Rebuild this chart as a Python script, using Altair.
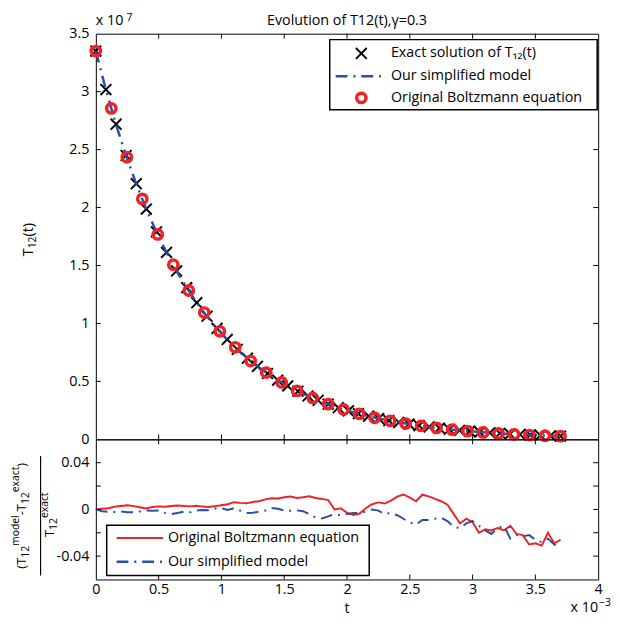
import altair as alt
import pandas as pd

# ---------------- data (t in units of 1e-3, T12 in units of 1e7) ----------------
t_exact = [0.000, 0.080, 0.161, 0.241, 0.322, 0.402, 0.483, 0.563, 0.643, 0.724,
           0.804, 0.885, 0.965, 1.046, 1.126, 1.207, 1.287, 1.367, 1.448, 1.528,
           1.609, 1.689, 1.770, 1.850, 1.930, 2.011, 2.091, 2.172, 2.252, 2.333,
           2.413, 2.493, 2.574, 2.654, 2.735, 2.815, 2.896, 2.976, 3.057, 3.137,
           3.217, 3.298, 3.378, 3.459, 3.539, 3.620, 3.700]
T_exact = [3.350, 3.018, 2.719, 2.449, 2.206, 1.987, 1.790, 1.613, 1.453, 1.309,
           1.179, 1.062, 0.957, 0.862, 0.777, 0.700, 0.630, 0.568, 0.511, 0.461,
           0.415, 0.374, 0.337, 0.303, 0.273, 0.246, 0.222, 0.200, 0.180, 0.162,
           0.146, 0.132, 0.119, 0.107, 0.096, 0.087, 0.078, 0.070, 0.063, 0.057,
           0.052, 0.046, 0.042, 0.038, 0.034, 0.031, 0.028]
T_model = [3.350, 3.016, 2.716, 2.447, 2.204, 1.985, 1.789, 1.612, 1.452, 1.308,
           1.178, 1.061, 0.956, 0.861, 0.776, 0.699, 0.630, 0.567, 0.511, 0.460,
           0.415, 0.374, 0.336, 0.303, 0.273, 0.246, 0.222, 0.200, 0.180, 0.162,
           0.146, 0.132, 0.118, 0.107, 0.096, 0.086, 0.078, 0.070, 0.063, 0.057,
           0.051, 0.046, 0.042, 0.037, 0.034, 0.030, 0.027]
t_boltz = [0.000, 0.123, 0.247, 0.370, 0.493, 0.617, 0.740, 0.863, 0.987, 1.110,
           1.233, 1.357, 1.480, 1.603, 1.727, 1.850, 1.973, 2.097, 2.220, 2.343,
           2.467, 2.590, 2.713, 2.837, 2.960, 3.083, 3.207, 3.330, 3.453, 3.577,
           3.700]
T_boltz = [3.350, 2.856, 2.434, 2.075, 1.768, 1.507, 1.284, 1.094, 0.932, 0.794,
           0.676, 0.576, 0.491, 0.418, 0.357, 0.304, 0.258, 0.220, 0.187, 0.160,
           0.136, 0.116, 0.099, 0.084, 0.071, 0.060, 0.051, 0.043, 0.037, 0.031,
           0.027]

t_err = [0.00, 0.05, 0.10, 0.15, 0.20, 0.25, 0.30, 0.35, 0.40, 0.45,
         0.50, 0.55, 0.60, 0.65, 0.70, 0.75, 0.80, 0.85, 0.90, 0.95,
         1.00, 1.05, 1.10, 1.15, 1.20, 1.25, 1.30, 1.35, 1.40, 1.45,
         1.50, 1.55, 1.60, 1.65, 1.70, 1.75, 1.80, 1.85, 1.90, 1.95,
         2.00, 2.05, 2.10, 2.15, 2.20, 2.25, 2.30, 2.35, 2.40, 2.45,
         2.50, 2.55, 2.60, 2.65, 2.70, 2.75, 2.80, 2.85, 2.90, 2.95,
         3.00, 3.05, 3.10, 3.15, 3.20, 3.25, 3.30, 3.35, 3.40, 3.45,
         3.50, 3.55, 3.60, 3.65, 3.70]
err_boltz = [0.0000, 0.0005, 0.0010, 0.0024, 0.0030, 0.0036, 0.0028, 0.0018, 0.0008, 0.0020,
             0.0026, 0.0022, 0.0030, 0.0034, 0.0030, 0.0026, 0.0032, 0.0024, 0.0020, 0.0028,
             0.0036, 0.0044, 0.0062, 0.0056, 0.0052, 0.0064, 0.0070, 0.0086, 0.0096, 0.0094,
             0.0104, 0.0110, 0.0098, 0.0104, 0.0112, 0.0098, 0.0090, 0.0080, 0.0000, 0.0010,
             -0.0030, -0.0048, -0.0036, 0.0010, 0.0044, 0.0060, 0.0050, 0.0076, 0.0110, 0.0128,
             0.0100, 0.0070, 0.0126, 0.0112, 0.0090, 0.0070, 0.0040, -0.0040, -0.0120, -0.0080,
             -0.0110, -0.0200, -0.0170, -0.0180, -0.0160, -0.0180, -0.0140, -0.0210, -0.0220, -0.0300,
             -0.0290, -0.0310, -0.0200, -0.0290, -0.0260]
err_model = [0.0000, -0.0015, -0.0020, -0.0022, -0.0018, -0.0024, -0.0025, -0.0018, -0.0010, -0.0012,
             -0.0010, -0.0030, -0.0040, -0.0030, -0.0020, -0.0025, -0.0010, -0.0005, -0.0008, 0.0008,
             0.0010, -0.0005, 0.0010, -0.0010, -0.0030, -0.0028, -0.0020, -0.0010, 0.0012, 0.0005,
             -0.0010, -0.0012, -0.0008, -0.0015, -0.0040, -0.0070, -0.0078, -0.0060, -0.0040, -0.0050,
             -0.0040, -0.0030, -0.0030, -0.0020, 0.0000, -0.0010, -0.0040, -0.0030, -0.0050, -0.0080,
             -0.0110, -0.0130, -0.0090, -0.0090, -0.0080, -0.0070, -0.0100, -0.0150, -0.0160, -0.0120,
             -0.0100, -0.0140, -0.0180, -0.0210, -0.0160, -0.0140, -0.0250, -0.0220, -0.0230, -0.0220,
             -0.0260, -0.0280, -0.0250, -0.0300, -0.0330]

x_ticks = [0, 0.5, 1, 1.5, 2, 2.5, 3, 3.5, 4]
top_y_ticks = [0, 0.5, 1, 1.5, 2, 2.5, 3, 3.5]
bot_y_ticks = [-0.04, -0.02, 0, 0.02, 0.04]
bot_y_labels = [-0.04, 0, 0.04]

# ---------------- style ----------------
FONT = "Open Sans"
FS = 14.5
RED = "#ec2327"
BLUE = "#2c4ea3"
W, HT, HB = 509, 411, 142
TL = 5  # inward tick length
DASHDOT = [12, 6, 2, 6]
CROSS = "M -1 -1 L 1 1 M -1 1 L 1 -1"

xs = alt.Scale(domain=[0, 4], nice=False, zero=False)
ys_top = alt.Scale(domain=[0, 3.5], nice=False, zero=False)
ys_bot = alt.Scale(domain=[-0.06, 0.06], nice=False, zero=False)

top_y_axis = alt.Axis(values=top_y_ticks, format=".1~f", ticks=False, domain=False, grid=False,
                      labelPadding=7, labelFontSize=FS, labelFont=FONT, labelColor="black", title=None)
bot_x_axis = alt.Axis(values=x_ticks, format=".1~f", ticks=False, domain=False, grid=False,
                      labelPadding=3, labelFontSize=FS, labelFont=FONT, labelColor="black",
                      labelFlush=False, labelOverlap=False, title=None)
bot_y_axis = alt.Axis(values=bot_y_labels, ticks=False, domain=False, grid=False,
                      labelExpr="datum.value < -0.001 ? '-' + format(-datum.value, '.2f') : (datum.value > 0.001 ? format(datum.value, '.2f') : '0')",
                      labelPadding=7, labelFontSize=FS, labelFont=FONT, labelColor="black", title=None)

one = pd.DataFrame({"a": [0]})


def txt(text, x, y, size=FS, angle=0, align="left", baseline="middle"):
    kw = dict(text=text, font=FONT, fontSize=size, align=align, baseline=baseline, color="black")
    if angle:
        kw["angle"] = angle
    return alt.Chart(one).mark_text(**kw).encode(x=alt.value(x), y=alt.value(y))


# ---------------- top panel ----------------
exact_df = pd.DataFrame({"t": t_exact, "v": T_exact})
model_df = pd.DataFrame({"t": t_exact, "v": T_model})
boltz_df = pd.DataFrame({"t": t_boltz, "v": T_boltz})
xt_df = pd.DataFrame({"t": x_ticks[1:-1]})
yt_top_df = pd.DataFrame({"v": top_y_ticks[1:-1]})

X_top = alt.X("t:Q", scale=xs, axis=None)
Y_top = alt.Y("v:Q", scale=ys_top, axis=top_y_axis)

crosses = alt.Chart(exact_df).mark_point(shape=CROSS, size=120, filled=False, stroke="black",
                                         strokeWidth=2, opacity=1).encode(x=X_top, y=Y_top)
model_line = alt.Chart(model_df).mark_line(color=BLUE, strokeWidth=2.5, strokeDash=DASHDOT).encode(x=X_top, y=Y_top)
circles = alt.Chart(boltz_df).mark_point(shape="circle", size=90, filled=False, stroke=RED,
                                         strokeWidth=3.5, opacity=1).encode(x=X_top, y=Y_top)

tk_top = [
    alt.Chart(xt_df).mark_rule(color="black").encode(x=X_top, y=alt.value(0), y2=alt.value(TL)),
    alt.Chart(xt_df).mark_rule(color="black").encode(x=X_top, y=alt.value(HT), y2=alt.value(HT - TL)),
    alt.Chart(yt_top_df).mark_rule(color="black").encode(y=Y_top, x=alt.value(0), x2=alt.value(TL)),
    alt.Chart(yt_top_df).mark_rule(color="black").encode(y=Y_top, x=alt.value(W), x2=alt.value(W - TL)),
]

LX = W - 272  # legend box left
leg_top = [
    alt.Chart(one).mark_rect(fill="white", stroke="black", strokeWidth=1.5).encode(
        x=alt.value(LX), x2=alt.value(W - 1), y=alt.value(6), y2=alt.value(77)),
    alt.Chart(one).mark_point(shape=CROSS, size=120, filled=False, stroke="black", strokeWidth=2,
                              opacity=1).encode(x=alt.value(LX + 32), y=alt.value(20)),
    txt("Exact solution of T₁₂(t)", LX + 62, 20),
    alt.Chart(one).mark_rule(color=BLUE, strokeWidth=2.5, strokeDash=DASHDOT).encode(
        x=alt.value(LX + 6), x2=alt.value(LX + 55), y=alt.value(43)),
    txt("Our simplified model", LX + 62, 43),
    alt.Chart(one).mark_point(shape="circle", size=90, filled=False, stroke=RED, strokeWidth=3.5,
                              opacity=1).encode(x=alt.value(LX + 32), y=alt.value(65)),
    txt("Original Boltzmann equation", LX + 62, 65),
]

texts_top = [
    txt("Evolution of T12(t),γ=0.3", W / 2, -9, align="center", baseline="alphabetic"),
    txt("x 10", 0, -9, baseline="alphabetic"),
    txt("7", 31, -13, size=10.5, baseline="alphabetic"),
    txt("T", -68, 225.5, angle=270),
    txt("12", -64, 217.5, size=10.5, angle=270),
    txt("(t)", -68, 205.5, angle=270),
]

top = alt.layer(crosses, model_line, circles, *tk_top, *leg_top, *texts_top).properties(width=W, height=HT)

# ---------------- bottom panel ----------------
err_df = pd.DataFrame({"t": t_err, "e1": err_boltz, "e2": err_model})
yt_bot_df = pd.DataFrame({"e1": bot_y_ticks})

X_bot = alt.X("t:Q", scale=xs, axis=bot_x_axis)
Y_bot = alt.Y("e1:Q", scale=ys_bot, axis=bot_y_axis)

red_line = alt.Chart(err_df).mark_line(color=RED, strokeWidth=2).encode(x=X_bot, y=Y_bot)
blue_line = alt.Chart(err_df).mark_line(color=BLUE, strokeWidth=2, strokeDash=DASHDOT).encode(
    x=X_bot, y=alt.Y("e2:Q", scale=ys_bot, axis=bot_y_axis))

tk_bot = [
    alt.Chart(xt_df).mark_rule(color="black").encode(x=X_bot, y=alt.value(0), y2=alt.value(TL)),
    alt.Chart(xt_df).mark_rule(color="black").encode(x=X_bot, y=alt.value(HB), y2=alt.value(HB - TL)),
    alt.Chart(yt_bot_df).mark_rule(color="black").encode(y=Y_bot, x=alt.value(0), x2=alt.value(TL)),
    alt.Chart(yt_bot_df).mark_rule(color="black").encode(y=Y_bot, x=alt.value(W), x2=alt.value(W - TL)),
]

leg_bot = [
    alt.Chart(one).mark_rect(fill="white", stroke="black", strokeWidth=1.5).encode(
        x=alt.value(11), x2=alt.value(277), y=alt.value(87), y2=alt.value(138)),
    alt.Chart(one).mark_rule(color=RED, strokeWidth=2).encode(
        x=alt.value(21), x2=alt.value(68), y=alt.value(100)),
    txt("Original Boltzmann equation", 73, 100),
    alt.Chart(one).mark_rule(color=BLUE, strokeWidth=2.5, strokeDash=DASHDOT).encode(
        x=alt.value(21), x2=alt.value(68), y=alt.value(124)),
    txt("Our simplified model", 73, 124),
]

texts_bot = [
    txt("t", W / 2, 176, align="center", baseline="alphabetic"),
    txt("x 10", 481, 175, baseline="alphabetic"),
    txt("−3", 510, 169, size=10.5, baseline="alphabetic"),
    # fraction axis title: numerator
    txt("(T", -75, 131, size=13, angle=270),
    txt("12", -71, 120, size=10.5, angle=270),
    txt("model", -80.5, 108, size=10.5, angle=270),
    txt("-T", -75, 77, size=13, angle=270),
    txt("12", -71, 65.6, size=10.5, angle=270),
    txt("exact", -80.5, 53.6, size=10.5, angle=270),
    txt(")", -75, 27.7, size=13, angle=270),
    # denominator
    txt("T", -46, 99, size=13, angle=270),
    txt("12", -42, 91.8, size=10.5, angle=270),
    txt("exact", -51, 79.8, size=10.5, angle=270),
]
frac_line = alt.Chart(one).mark_rule(color="black", strokeWidth=1.2).encode(
    x=alt.value(-56), y=alt.value(17), y2=alt.value(138))

bottom = alt.layer(red_line, blue_line, *tk_bot, *leg_bot, *texts_bot, frac_line).properties(width=W, height=HB)

chart = alt.vconcat(top, bottom, spacing=0, bounds="flush").properties(
    padding={"left": 2, "top": 0, "right": 0, "bottom": 0}
).configure_view(stroke="black", strokeWidth=1)

chart.save("out.html", embed_options={"renderer": "svg", "actions": False})
